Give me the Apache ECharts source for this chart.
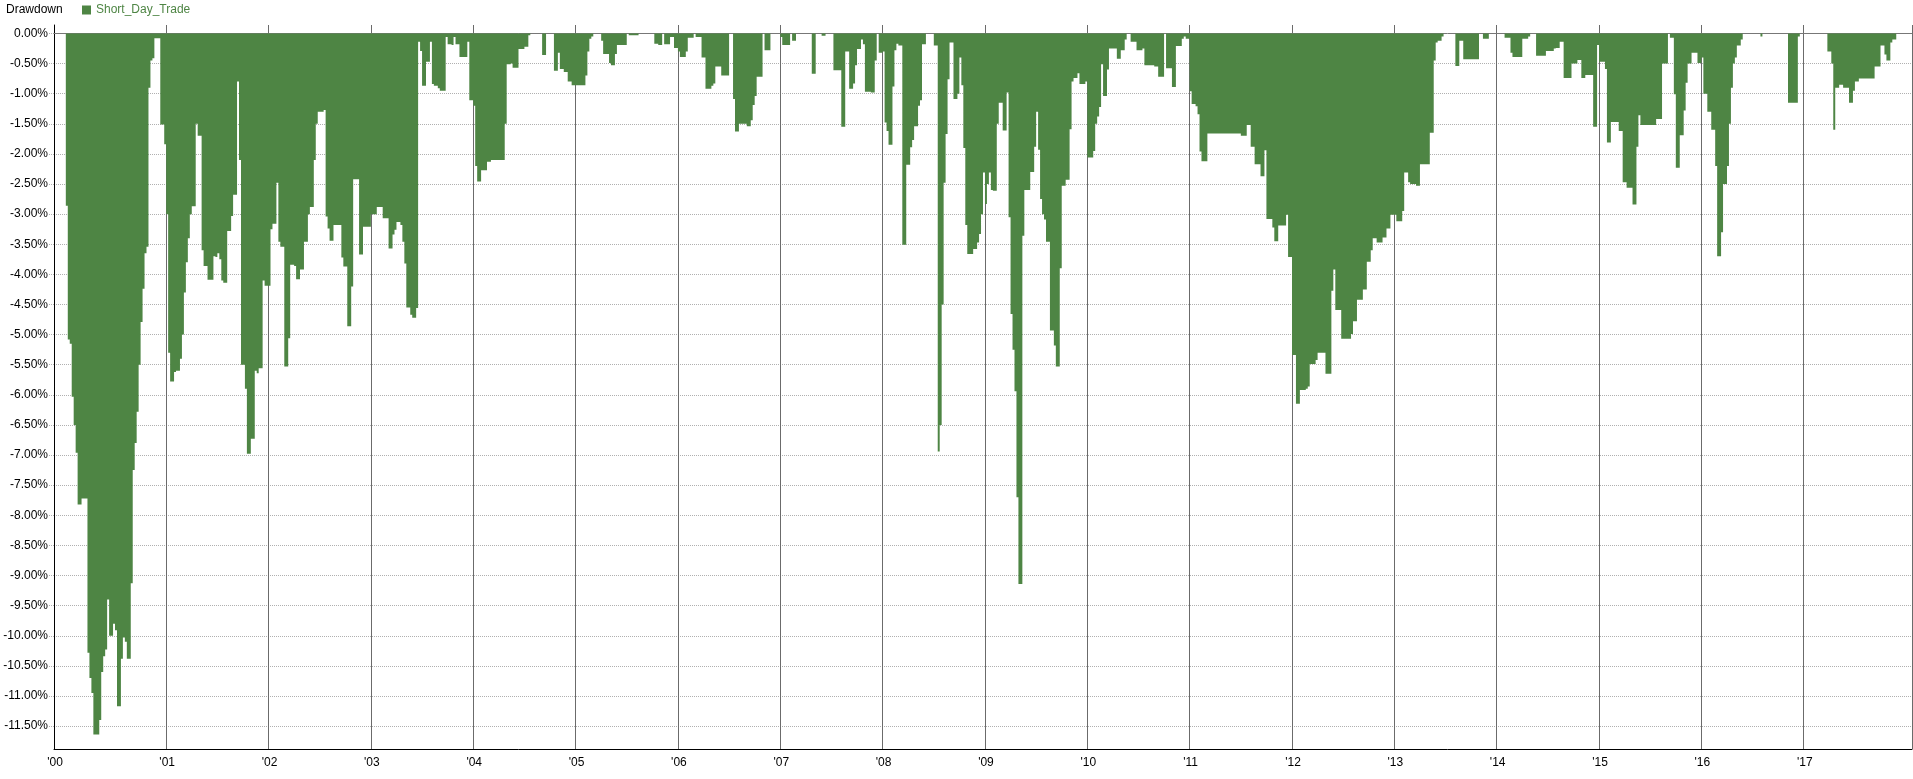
<!DOCTYPE html>
<html>
<head>
<meta charset="utf-8">
<script src="https://cdn.jsdelivr.net/npm/echarts@6/dist/echarts.min.js"></script>
<style>
html,body{margin:0;padding:0;background:#ffffff;}
#chart{width:1913px;height:779px;}
</style>
</head>
<body>
<div id="chart"></div>
<script>
// ---------- data ----------
const chartTitle = 'Drawdown';
const seriesName = 'Short_Day_Trade';
const yearLabels = ["'00","'01","'02","'03","'04","'05","'06","'07","'08","'09","'10","'11","'12","'13","'14","'15","'16","'17"];
const yTicks = [0,-0.5,-1,-1.5,-2,-2.5,-3,-3.5,-4,-4.5,-5,-5.5,-6,-6.5,-7,-7.5,-8,-8.5,-9,-9.5,-10,-10.5,-11,-11.5];
const padStart = ['1999-W48','1999-W49','1999-W50','1999-W51','1999-W52'];
const padEnd = ['2018-W01','2018-W02','2018-W03'];

// weekly drawdown (%), 52 weeks per year
const y2000 = [0,-2.86,-5.08,-5.15,-6.03,-6.5,-6.96,-7.82,-7.82,-7.72,-7.72,-7.72,-10.28,-10.7,-10.95,-11.64,-11.64,-11.64,-11.4,-10.6,-10.34,-10.23,-9.4,-10.0,-10.0,-9.8,-9.91,-11.17,-11.17,-10.38,-10.03,-10.1,-10.38,-10.38,-9.13,-7.25,-6.8,-6.28,-5.5,-4.79,-4.24,-3.65,-3.54,-0.9,-0.45,-0.41,-0.08,-0.08,-0.08,-1.51,-1.51,-1.84];
const y2001 = [-3.0,-5.3,-5.78,-5.78,-5.62,-5.6,-5.6,-5.4,-5.0,-4.3,-3.8,-3.4,-3.0,-2.87,-2.87,-1.5,-1.7,-1.7,-3.6,-3.86,-3.86,-4.09,-4.09,-4.09,-3.7,-3.71,-3.65,-3.75,-4.1,-4.14,-4.14,-3.28,-3.28,-3.03,-2.68,-2.68,-0.8,-2.1,-5.5,-5.5,-5.9,-6.98,-6.98,-6.73,-6.73,-5.6,-5.64,-5.56,-5.56,-4.1,-4.19,-4.19];
const y2002 = [-4.19,-3.25,-3.16,-3.16,-2.48,-3.46,-3.54,-3.54,-5.53,-5.53,-5.06,-3.84,-3.84,-3.86,-4.08,-4.08,-3.92,-3.92,-3.46,-3.46,-3.0,-2.88,-2.88,-2.1,-1.5,-1.3,-1.3,-1.3,-1.27,-3.04,-3.24,-3.44,-3.44,-3.18,-3.18,-3.18,-3.18,-3.72,-3.87,-3.87,-4.86,-4.86,-4.2,-2.42,-2.42,-2.42,-3.67,-3.67,-3.21,-3.21,-3.21,-3.21];
const y2003 = [-3.0,-3.0,-3.0,-2.88,-2.88,-2.88,-3.07,-3.07,-3.07,-3.57,-3.57,-3.34,-3.26,-3.13,-3.13,-3.18,-3.46,-3.82,-4.55,-4.55,-4.67,-4.72,-4.72,-4.56,-0.14,-0.29,-0.87,-0.87,-0.47,-0.47,-0.14,-0.84,-0.87,-0.87,-0.91,-0.95,-0.95,-0.95,-0.06,-0.18,-0.18,-0.19,-0.06,-0.18,-0.18,-0.39,-0.39,-0.39,-0.39,-0.14,-1.11,-1.11];
const y2004 = [-1.2,-2.2,-2.46,-2.46,-2.27,-2.27,-2.27,-2.13,-2.13,-2.1,-2.1,-2.1,-2.1,-2.1,-2.1,-2.1,-1.5,-0.51,-0.51,-0.5,-0.57,-0.57,-0.57,-0.26,-0.26,-0.26,-0.22,-0.22,-0.03,0,0,0,0,0,0,-0.36,-0.36,0,0,0,0,-0.62,-0.62,-0.32,-0.59,-0.59,-0.64,-0.64,-0.8,-0.8,-0.86,-0.86];
const y2005 = [-0.86,-0.86,-0.86,-0.86,-0.86,-0.7,-0.3,-0.09,-0.05,0,0,0,0,-0.12,-0.34,-0.34,-0.34,-0.49,-0.53,-0.53,-0.34,-0.19,-0.19,-0.19,-0.19,-0.19,0,-0.03,-0.03,-0.03,-0.03,-0.03,0,0,0,0,0,0,0,0,-0.17,-0.17,-0.19,-0.19,0,-0.18,-0.18,-0.18,-0.06,-0.06,-0.24,-0.24];
const y2006 = [-0.3,-0.39,-0.39,-0.39,-0.3,-0.07,-0.07,-0.07,0,-0.06,-0.06,-0.06,-0.4,-0.4,-0.92,-0.92,-0.92,-0.87,-0.83,-0.55,-0.55,-0.55,-0.7,-0.7,-0.7,-0.7,0,0,-1.09,-1.63,-1.63,-1.5,-1.5,-1.5,-1.5,-1.54,-1.54,-1.44,-1.19,-1.04,-0.72,-0.72,-0.72,0,-0.28,-0.28,-0.28,0,0,0,0,0];
const y2007 = [-0.06,-0.19,-0.19,-0.19,-0.19,0,-0.12,-0.12,0,0,0,0,0,0,0,0,-0.67,-0.67,0,0,0,-0.04,-0.04,0,0,0,0,-0.61,-0.61,-0.61,-0.61,-1.55,-1.55,-0.3,-0.3,-0.92,-0.92,-0.83,-0.53,-0.26,-0.26,-0.1,-0.18,-0.97,-0.97,-0.97,-0.98,-0.98,-0.45,0,-0.32,-0.32];
const y2008 = [-0.3,-1.48,-1.62,-1.85,-1.85,-0.88,-0.28,-0.17,-0.2,-0.2,-3.51,-3.51,-2.18,-2.18,-1.89,-1.77,-1.54,-1.54,-1.2,-1.11,-0.18,-0.18,0,0,0,0,-0.2,-0.2,-6.94,-6.5,-4.5,-2.48,-1.67,-0.76,-0.15,-0.15,-1.09,-1.09,-1.0,-0.4,-0.86,-1.9,-3.18,-3.66,-3.66,-3.66,-3.58,-3.58,-3.47,-3.33,-3.0,-2.31];
const y2009 = [-2.83,-2.5,-2.31,-2.6,-2.61,-2.61,-1.5,-1.15,-1.15,-1.61,-1.61,-0.98,-3.05,-4.66,-5.25,-5.94,-7.7,-9.14,-9.14,-3.36,-2.6,-2.6,-2.6,-2.3,-2.3,-1.88,-1.3,-1.93,-2.75,-3.0,-3.09,-3.46,-3.46,-4.93,-4.93,-5.18,-5.53,-5.53,-3.9,-2.53,-2.53,-2.43,-2.43,-1.59,-0.8,-0.74,-0.74,-0.66,-0.84,-0.84,-0.84,-0.8];
const y2010 = [-2.06,-2.06,-2.06,-1.95,-1.5,-1.38,-1.22,-0.51,-1.04,-1.04,-0.6,-0.25,-0.25,-0.25,-0.25,-0.42,-0.42,-0.28,-0.28,-0.1,0,0,-0.14,-0.14,-0.14,-0.28,-0.28,-0.28,-0.25,-0.53,-0.53,-0.53,-0.53,-0.53,-0.55,-0.55,-0.72,-0.72,-0.72,0,-0.58,-0.58,-0.58,-0.89,-0.89,-0.21,-0.21,-0.21,-0.09,-0.05,-0.09,-0.09];
const y2011 = [-0.96,-1.17,-1.17,-1.21,-1.34,-1.96,-2.12,-2.12,-2.12,-1.66,-1.66,-1.66,-1.66,-1.66,-1.66,-1.66,-1.66,-1.66,-1.66,-1.66,-1.66,-1.66,-1.66,-1.66,-1.66,-1.66,-1.7,-1.7,-1.7,-1.52,-1.52,-1.88,-1.88,-2.17,-2.17,-2.17,-2.37,-2.37,-1.94,-3.08,-3.08,-3.08,-3.22,-3.45,-3.45,-3.19,-3.19,-3.19,-3.19,-3.01,-3.71,-3.71];
const y2012 = [-5.34,-5.34,-6.15,-6.15,-5.92,-5.92,-5.92,-5.9,-5.86,-5.49,-5.49,-5.49,-5.42,-5.3,-5.3,-5.3,-5.3,-5.65,-5.65,-5.65,-4.27,-3.92,-4.59,-4.59,-4.59,-5.07,-5.07,-5.07,-5.07,-5.07,-4.99,-4.78,-4.78,-4.42,-4.42,-4.42,-4.25,-4.25,-3.79,-3.79,-3.6,-3.4,-3.4,-3.47,-3.47,-3.47,-3.39,-3.39,-3.24,-3.24,-3.01,-3.01];
const y2013 = [-3.01,-3.12,-3.12,-3.12,-2.95,-2.31,-2.31,-2.47,-2.5,-2.5,-2.5,-2.53,-2.53,-2.17,-2.17,-2.17,-2.17,-2.17,-1.65,-1.65,-0.45,-0.15,-0.12,-0.12,-0.05,0,0,0,0,0,0,-0.54,-0.54,-0.12,-0.12,-0.43,-0.43,-0.43,-0.43,-0.43,-0.43,-0.43,-0.43,0,0,-0.09,-0.09,-0.09,0,0,0,0];
const y2014 = [0,0,0,0,-0.07,-0.07,-0.07,-0.32,-0.39,-0.39,-0.39,-0.39,-0.39,-0.09,-0.09,-0.09,-0.05,0,0,0,-0.37,-0.37,-0.37,-0.37,-0.37,-0.29,-0.29,-0.29,-0.29,-0.25,-0.24,-0.24,-0.14,-0.14,-0.74,-0.74,-0.74,-0.74,-0.5,-0.5,-0.5,-0.44,-0.44,-0.74,-0.74,-0.69,-0.69,-0.69,-0.69,-1.55,-1.55,-0.19];
const y2015 = [-0.47,-0.47,-0.47,-0.59,-1.81,-1.81,-1.47,-1.47,-1.47,-1.47,-1.62,-1.62,-2.47,-2.47,-2.56,-2.56,-2.56,-2.84,-2.84,-1.88,-1.36,-1.52,-1.52,-1.52,-1.52,-1.52,-1.52,-1.52,-1.52,-1.42,-1.42,-1.42,-0.5,-0.5,-0.5,0,-0.07,-0.07,-1.01,-2.23,-2.23,-1.69,-1.69,-1.28,-0.82,-0.5,-0.5,-0.32,-0.32,-0.32,-0.49,-0.49];
const y2016 = [-0.4,-1.0,-1.0,-1.3,-1.3,-1.6,-1.6,-2.2,-3.7,-3.7,-3.3,-2.5,-2.5,-2.2,-1.5,-0.9,-0.5,-0.4,-0.2,-0.2,-0.1,0,0,0,0,0,0,0,0,0,-0.05,0,0,0,0,0,0,0,0,0,0,0,0,0,-1.15,-1.15,-1.15,-1.15,-1.15,-0.05,0,0];
const y2017 = [0,0,0,0,0,0,0,0,0,0,0,0,-0.3,-0.3,-0.5,-1.6,-0.9,-0.9,-0.85,-0.85,-0.9,-0.9,-0.9,-1.15,-1.15,-0.95,-0.8,-0.8,-0.75,-0.75,-0.75,-0.75,-0.75,-0.75,-0.75,-0.75,-0.55,-0.55,-0.55,-0.2,-0.2,-0.35,-0.45,-0.45,-0.15,-0.1,-0.1,0,0,0,0,0];

// ---------- build ----------
const yearly = [y2000,y2001,y2002,y2003,y2004,y2005,y2006,y2007,y2008,y2009,y2010,y2011,y2012,y2013,y2014,y2015,y2016,y2017];
const categories = padStart.slice();
const values = padStart.map(() => 0);
yearly.forEach((arr, i) => {
  arr.forEach((v, w) => {
    categories.push((2000 + i) + '-W' + String(w + 1).padStart(2, '0'));
    values.push(v);
  });
});
padEnd.forEach(c => { categories.push(c); values.push(0); });

const FONT = '"Liberation Sans", Arial, Helvetica, sans-serif';
const GREEN = '#4e8544';

function isYearStart(idx, val) {
  const y = +String(val).slice(0, 4);
  return String(val).slice(5) === 'W01' && y >= 2001 && y <= 2017;
}

const chart = echarts.init(document.getElementById('chart'), null, {renderer: 'canvas'});
chart.setOption({
  animation: false,
  backgroundColor: '#ffffff',
  textStyle: {fontFamily: FONT},
  title: {
    text: chartTitle, left: 6, top: 4, padding: 0,
    textStyle: {fontSize: 12, fontWeight: 'normal', color: '#000000', fontFamily: FONT}
  },
  legend: {
    left: 82, top: 4, padding: 0,
    icon: 'rect', itemWidth: 9, itemHeight: 9,
    textStyle: {color: GREEN, fontSize: 12, fontFamily: FONT},
    data: [seriesName]
  },
  grid: {left: 54, right: 1, top: 25, bottom: 30, containLabel: false},
  xAxis: [{
    type: 'category',
    data: categories,
    boundaryGap: true,
    axisLine: {show: true, onZero: false, lineStyle: {color: '#000000', width: 1}},
    axisTick: {show: false},
    axisLabel: {
      interval: (idx, val) => idx === 0 || isYearStart(idx, val),
      formatter: (val, idx) => idx === 0 ? yearLabels[0] : yearLabels[+String(val).slice(0, 4) - 2000],
      color: '#000000', fontSize: 12, margin: 8, fontFamily: FONT
    },
    splitLine: {show: true, interval: isYearStart, lineStyle: {color: '#6b6b6b', width: 1, type: 'solid'}}
  }, {
    type: 'category',
    data: categories,
    position: 'top',
    z: 1,
    axisLine: {show: true, onZero: true, lineStyle: {color: '#777777', width: 1}},
    axisTick: {show: false},
    axisLabel: {show: false},
    splitLine: {show: false}
  }],
  yAxis: {
    type: 'value',
    min: -11.88, max: 0.14,
    axisLine: {show: true, lineStyle: {color: '#000000', width: 1}},
    axisTick: {show: true, length: 5, customValues: yTicks, lineStyle: {color: '#b0b0b0', type: 'dotted'}},
    axisLabel: {
      customValues: yTicks,
      formatter: v => (Math.abs(v) < 1e-9 ? 0 : v).toFixed(2) + '%',
      color: '#000000', fontSize: 12, margin: 6, fontFamily: FONT
    },
    splitLine: {show: true, lineStyle: {color: '#b0b0b0', width: 1, type: 'dotted'}}
  },
  series: [{
    name: seriesName,
    type: 'bar',
    xAxisIndex: 0,
    data: values,
    barCategoryGap: '0%',
    barGap: '0%',
    large: true,
    largeThreshold: 400,
    itemStyle: {color: GREEN},
    emphasis: {disabled: true}
  }]
});
</script>
</body>
</html>
